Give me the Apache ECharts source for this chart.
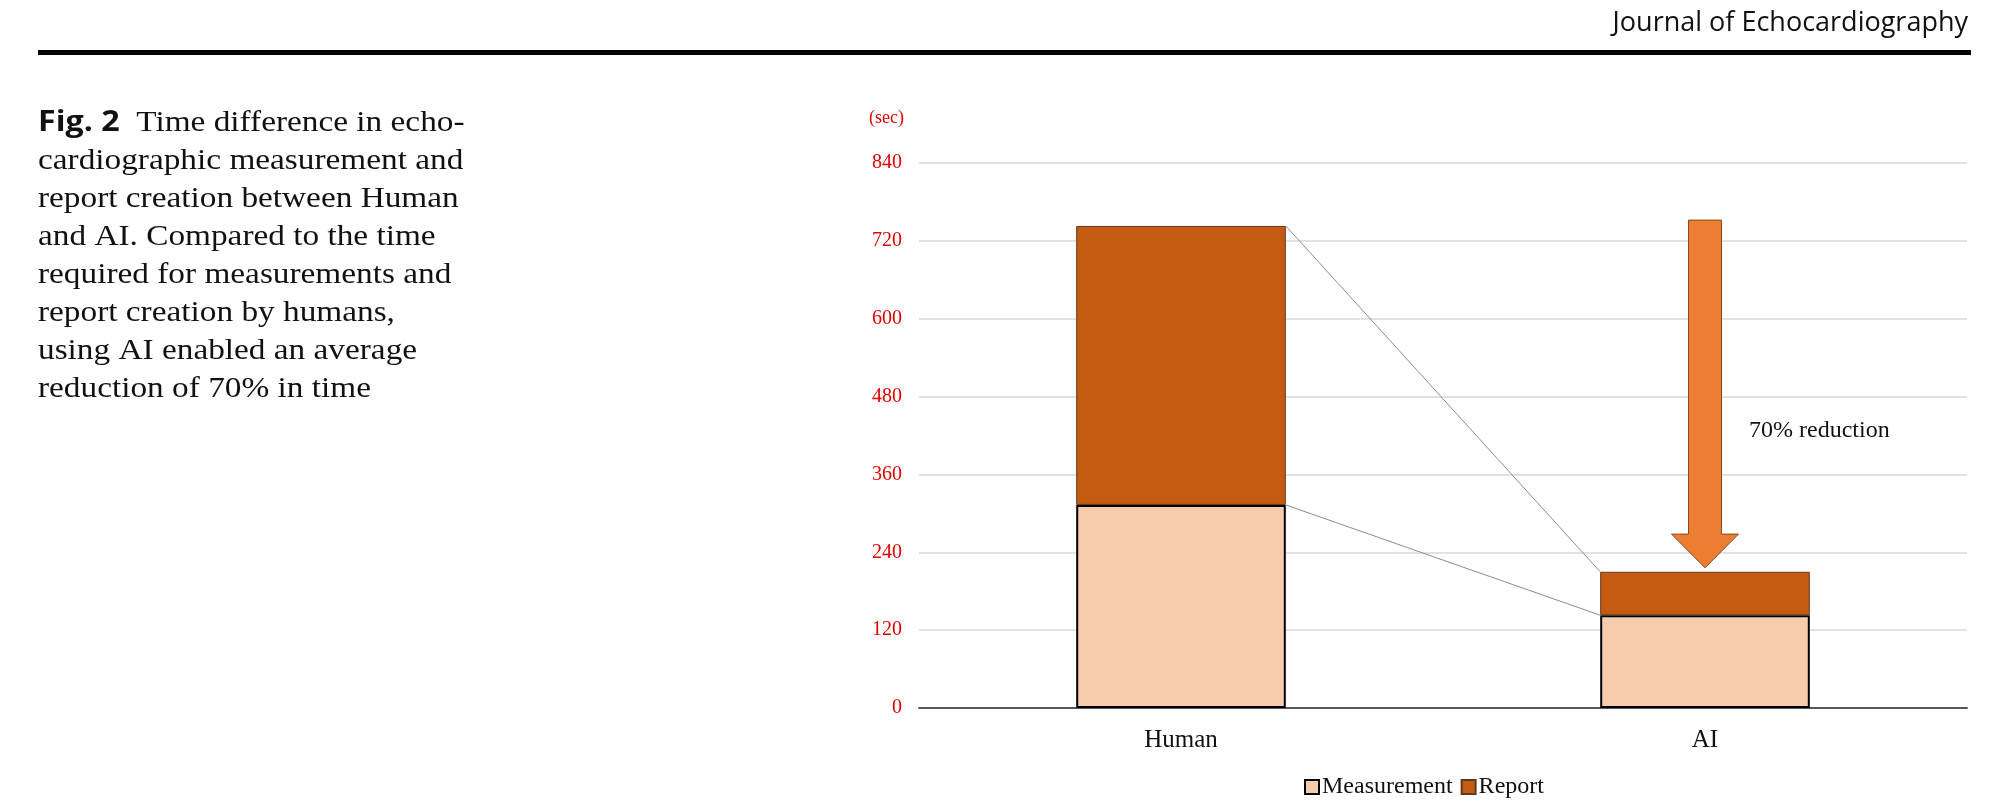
<!DOCTYPE html>
<html>
<head>
<meta charset="utf-8">
<script src="https://cdn.jsdelivr.net/npm/echarts@6/dist/echarts.min.js"></script>
<style>
  html, body { margin: 0; padding: 0; background: #fff; }
  #main { width: 1993px; height: 810px; }
</style>
</head>
<body>
<div id="main"></div>
<script>
// data (seconds)
const categories = ['Human', 'AI'];
const measurement = [313, 143];
const report = [430, 67];
const yTicks = [0, 120, 240, 360, 480, 600, 720, 840];
// arrow runs from this value down to just above the AI bar
const arrowFrom = 752;
const arrowTo = 216;
const arrowHeadStart = 268;
const reductionLabel = '70% reduction';

const serif = '"Liberation Serif", "DejaVu Serif", serif';
const sans = '"Open Sans", "Noto Sans", sans-serif';

const dom = document.getElementById('main');
const myChart = echarts.init(dom);

const totals = measurement.map((m, i) => m + report[i]);

// connector lines + arrow + label, all placed through the axes
function renderNotes(params, api) {
  const band = api.size([1, 0])[0];
  const half = band * 0.2;
  const h = api.coord([0, totals[0]]);
  const hm = api.coord([0, measurement[0]]);
  const a = api.coord([1, totals[1]]);
  const am = api.coord([1, measurement[1]]);
  const top = api.coord([1, arrowFrom]);
  const tip = api.coord([1, arrowTo]);
  const headY = api.coord([1, arrowHeadStart])[1];
  const cx = a[0];
  const sw = 16.5, hw = 33.5;
  const lineStyle = { stroke: '#8c8c8c', lineWidth: 1 };
  return {
    type: 'group',
    children: [
      { type: 'line', shape: { x1: h[0] + half, y1: h[1], x2: a[0] - half, y2: a[1] }, style: lineStyle },
      { type: 'line', shape: { x1: hm[0] + half, y1: hm[1], x2: am[0] - half, y2: am[1] }, style: lineStyle },
      {
        type: 'polygon',
        shape: {
          points: [
            [cx - sw, top[1]], [cx + sw, top[1]], [cx + sw, headY], [cx + hw, headY],
            [cx, tip[1]], [cx - hw, headY], [cx - sw, headY]
          ]
        },
        style: { fill: '#ed7d31', stroke: '#8a4a1f', lineWidth: 1 }
      },
      {
        type: 'text',
        x: cx + 44,
        y: api.coord([1, 428])[1],
        style: {
          text: reductionLabel, font: '24px ' + serif, fill: '#111',
          verticalAlign: 'middle', align: 'left'
        }
      }
    ]
  };
}

myChart.setOption({
  animation: false,
  backgroundColor: '#fff',
  graphic: [
    {
      type: 'text', right: 25, top: 10,
      style: { text: 'Journal of Echocardiography', font: '27px ' + sans, fill: '#111' }
    },
    { type: 'rect', shape: { x: 38, y: 50, width: 1933, height: 5 }, style: { fill: '#000' } },
    {
      type: 'text', x: 38, y: 104, scaleX: 1.11,
      style: {
        text: '{b|Fig. 2}  Time difference in echo-\ncardiographic measurement and\nreport creation between Human\nand AI. Compared to the time\nrequired for measurements and\nreport creation by humans,\nusing AI enabled an average\nreduction of 70% in time',
        font: '30px ' + serif,
        fill: '#111',
        lineHeight: 38,
        rich: {
          b: { font: 'bold 29px ' + sans, fill: '#111', lineHeight: 38 }
        }
      }
    }
  ],
  legend: {
    data: ['Measurement', 'Report'],
    icon: 'rect',
    left: 1299,
    top: 770,
    itemWidth: 14,
    itemHeight: 14,
    itemGap: 8,
    textStyle: { fontFamily: serif, fontSize: 24, color: '#111', padding: [0, 0, 0, -2] }
  },
  grid: { left: 919, right: 26, top: 163, bottom: 102 },
  xAxis: {
    type: 'category',
    data: categories,
    axisLine: { lineStyle: { color: '#595959', width: 2 } },
    axisTick: { show: false },
    axisLabel: { fontFamily: serif, fontSize: 25, color: '#111', margin: 20 }
  },
  yAxis: {
    type: 'value',
    min: yTicks[0],
    max: yTicks[yTicks.length - 1],
    interval: 120,
    name: '(sec)',
    nameGap: 36,
    nameTextStyle: { fontFamily: serif, fontSize: 18, color: '#e00000', align: 'right', padding: [0, 15, 0, 0] },
    axisLine: { show: false },
    axisTick: { show: false },
    splitLine: { lineStyle: { color: '#d9d9d9', width: 1.5 } },
    axisLabel: { fontFamily: serif, fontSize: 20, color: '#e00000', margin: 17 }
  },
  series: [
    {
      name: 'Measurement',
      type: 'bar',
      stack: 'time',
      barWidth: '40%',
      data: measurement,
      itemStyle: { color: '#f8cbad', borderColor: '#000', borderWidth: 2 }
    },
    {
      name: 'Report',
      type: 'bar',
      stack: 'time',
      barWidth: '40%',
      data: report,
      itemStyle: { color: '#c55a11', borderColor: '#5a3a20', borderWidth: 1 }
    },
    {
      type: 'custom',
      renderItem: renderNotes,
      data: [[1, arrowFrom]],
      silent: true,
      z: 5
    }
  ]
});
</script>
</body>
</html>
